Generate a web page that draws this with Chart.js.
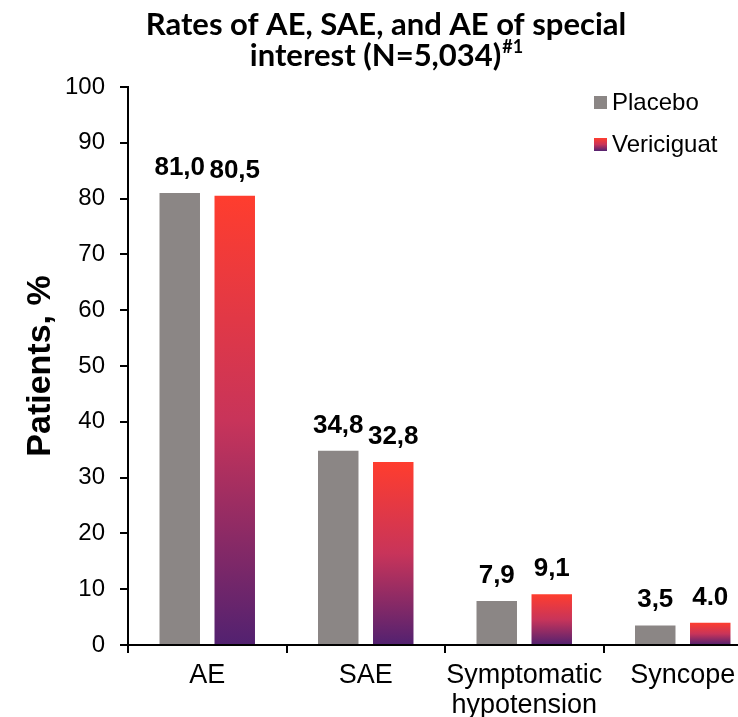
<!DOCTYPE html>
<html>
<head>
<meta charset="utf-8">
<script src="https://cdn.jsdelivr.net/npm/chart.js@4.4.1/dist/chart.umd.min.js"></script>
<style>
  html, body { margin: 0; padding: 0; background: #fff; overflow: hidden; }
  #wrap { width: 738px; height: 717px; overflow: hidden; position: relative; }
  #box { width: 772px; height: 717px; }
</style>
</head>
<body>
<div id="wrap"><div id="box"><canvas id="chart"></canvas></div></div>
<script>
// chart data
const categories = ['AE', 'SAE', ['Symptomatic', 'hypotension'], 'Syncope'];
const placeboValues = [81.0, 34.8, 7.9, 3.5];
const vericiguatValues = [80.5, 32.8, 9.1, 4.0];
const placeboLabels = ['81,0', '34,8', '7,9', '3,5'];
const vericiguatLabels = ['80,5', '32,8', '9,1', '4.0'];
const yTicks = [0, 10, 20, 30, 40, 50, 60, 70, 80, 90, 100];
const titleLine1 = 'Rates of AE, SAE, and AE of special';
const titleLine2 = 'interest (N=5,034)';
const titleSup = '#1';

const GRAY = '#8b8685';
const ARIAL = '"Liberation Sans", Arial, sans-serif';

// red on top fading to purple at the base of each bar
function barGradient(ctx, top, bottom) {
    const g = ctx.createLinearGradient(0, top, 0, bottom);
    g.addColorStop(0, '#ff3d2e');
    g.addColorStop(0.5, '#c8345a');
    g.addColorStop(1, '#522170');
    return g;
}

// title with superscript
const titlePlugin = {
    id: 'titleText',
    afterDraw(chart) {
        const ctx = chart.ctx;
        const cx = chart.width / 2;
        ctx.save();
        ctx.fillStyle = '#000';
        ctx.textBaseline = 'alphabetic';
        ctx.font = 'bold 31px Lato, sans-serif';
        ctx.textAlign = 'center';
        ctx.fillText(titleLine1, cx, 35);
        const w2 = ctx.measureText(titleLine2).width;
        ctx.font = 'bold 18px Lato, sans-serif';
        const ws = ctx.measureText(titleSup).width;
        const x0 = cx - (w2 + ws) / 2;
        ctx.textAlign = 'left';
        ctx.font = 'bold 31px Lato, sans-serif';
        ctx.fillText(titleLine2, x0, 66);
        ctx.font = 'bold 18px Lato, sans-serif';
        ctx.fillText(titleSup, x0 + w2 + 1, 53);
        ctx.restore();
    }
};

// value labels above bars
const valueLabelPlugin = {
    id: 'valueLabels',
    afterDatasetsDraw(chart) {
        const ctx = chart.ctx;
        const texts = [placeboLabels, vericiguatLabels];
        ctx.save();
        ctx.font = 'bold 26px ' + ARIAL;
        ctx.fillStyle = '#000';
        ctx.textAlign = 'center';
        ctx.textBaseline = 'alphabetic';
        chart.data.datasets.forEach((ds, i) => {
            chart.getDatasetMeta(i).data.forEach((bar, j) => {
                ctx.fillText(texts[i][j], bar.x, bar.y - 18);
            });
        });
        ctx.restore();
    }
};

// legend at top right of the plot
const legendPlugin = {
    id: 'cornerLegend',
    afterDraw(chart) {
        const ctx = chart.ctx;
        const area = chart.chartArea;
        const x = area.left + 466;
        const rows = [area.top + 9, area.top + 51];
        ctx.save();
        ctx.font = '24px ' + ARIAL;
        ctx.textBaseline = 'middle';
        ctx.textAlign = 'left';
        chart.data.datasets.forEach((ds, i) => {
            const y = rows[i];
            ctx.fillStyle = i === 0 ? GRAY : barGradient(ctx, y, y + 13);
            ctx.fillRect(x, y, 13, 13);
            ctx.fillStyle = '#000';
            ctx.fillText(ds.label, x + 18, y + 7);
        });
        ctx.restore();
    }
};

const ctx = document.getElementById('chart').getContext('2d');
const chart = new Chart(ctx, {
    type: 'bar',
    data: {
        labels: categories,
        datasets: [{
            label: 'Placebo',
            data: placeboValues,
            backgroundColor: GRAY,
            categoryPercentage: 0.694,
            barPercentage: 0.736
        }, {
            label: 'Vericiguat',
            data: vericiguatValues,
            backgroundColor: (c) => {
                const ch = c.chart;
                if (!ch.chartArea || c.dataIndex === undefined) return '#ff3d2e';
                const y = ch.scales.y;
                const v = c.dataset.data[c.dataIndex];
                return barGradient(ch.ctx, y.getPixelForValue(v), y.getPixelForValue(0));
            },
            categoryPercentage: 0.694,
            barPercentage: 0.736
        }]
    },
    options: {
        responsive: true,
        maintainAspectRatio: false,
        animation: false,
        layout: { padding: { top: 87, right: 10, left: 0, bottom: 0 } },
        plugins: {
            legend: { display: false },
            title: { display: false },
            tooltip: { enabled: false }
        },
        scales: {
            x: {
                grid: { display: true, drawOnChartArea: false, offset: true, tickLength: 8, color: '#000', lineWidth: 2 },
                border: { display: true, color: '#000', width: 2 },
                ticks: { color: '#000', font: { family: ARIAL, size: 27, lineHeight: 1.1 }, padding: 8, maxRotation: 0, autoSkip: false },
                afterFit(scale) { scale.height = 72; }
            },
            y: {
                min: 0,
                max: 100,
                afterBuildTicks(scale) { scale.ticks = yTicks.map(v => ({ value: v })); },
                grid: { display: true, drawOnChartArea: false, tickLength: 8, color: '#000', lineWidth: 2 },
                border: { display: true, color: '#000', width: 2 },
                ticks: { color: '#000', font: { family: ARIAL, size: 24 }, padding: 15 },
                title: { display: true, text: 'Patients, %', color: '#000', font: { family: ARIAL, size: 34, weight: 'bold' }, padding: { top: 20, bottom: 0 } },
                afterFit(scale) { scale.width = 128; }
            }
        }
    },
    plugins: [titlePlugin, valueLabelPlugin, legendPlugin]
});
</script>
</body>
</html>
